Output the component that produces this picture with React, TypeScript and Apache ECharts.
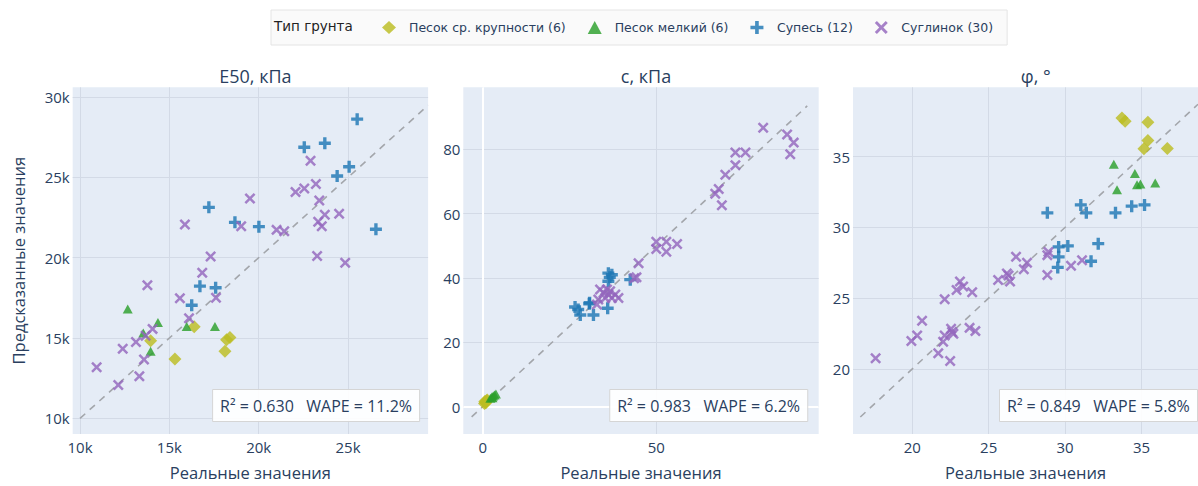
import React, { useEffect, useRef } from "react";
import * as echarts from "echarts";

// ---------- data ----------
const typeNames = ["Песок ср. крупности (6)", "Песок мелкий (6)", "Супесь (12)", "Суглинок (30)"];
const typeColors = ["#bcbd22", "#2ca02c", "#1f77b4", "#9467bd"];
const panelTitles = ["E50, кПа", "c, кПа", "φ, °"];
const metricTexts = ["R² = 0.630\u00a0\u00a0\u00a0WAPE = 11.2%", "R² = 0.983\u00a0\u00a0\u00a0WAPE = 6.2%", "R² = 0.849\u00a0\u00a0\u00a0WAPE = 5.8%"];
const axisTitleX = "Реальные значения";
const axisTitleY = "Предсказанные значения";

// [real, predicted]
const e50Sand: number[][] = [[13950, 14830], [16390, 15700], [15310, 13700], [18390, 15040], [18200, 14900], [18110, 14180]];
const e50Fine: number[][] = [[12670, 16810], [14360, 15970], [15970, 15720], [17550, 15720], [13950, 14180], [13540, 15310]];
const e50Supes: number[][] = [[25510, 28620], [22550, 26870], [23700, 27120], [24390, 25080], [25060, 25660], [17210, 23130], [18670, 22200], [20010, 21930], [26560, 21770], [16710, 18230], [17590, 18130], [16250, 17040]];
const e50Sugl: number[][] = [[22900, 26030], [22060, 24090], [22550, 24300], [23200, 24590], [19510, 23680], [23390, 23560], [15870, 22060], [19020, 21960], [21000, 21730], [21430, 21650], [23700, 22670], [24500, 22730], [23330, 22240], [23530, 21960], [23270, 20100], [24840, 19690], [17310, 20080], [16840, 19060], [13770, 18290], [15590, 17470], [17610, 17510], [16100, 16230], [14060, 15570], [13670, 15140], [13130, 14750], [12390, 14340], [13580, 13660], [10930, 13190], [13320, 12630], [12140, 12080]];

const cSand: number[][] = [[0.5, 1.0], [0.8, 1.4], [1.1, 1.8], [0.6, 1.6], [1.3, 2.1], [0.9, 1.2]];
const cFine: number[][] = [[2.2, 2.6], [2.6, 3.0], [3.0, 3.3], [3.4, 3.6], [2.8, 2.8], [3.8, 3.9]];
const cSupes: number[][] = [[36.2, 41.5], [37.2, 41.0], [36.2, 39.0], [42.5, 39.5], [26.6, 31.0], [28.1, 28.5], [30.7, 32.0], [31.9, 28.5], [36.0, 30.6], [30.8, 32.3], [36.6, 40.2], [27.5, 30.2]];
const cSugl: number[][] = [[80.8, 86.7], [87.7, 84.6], [89.6, 82.1], [88.6, 78.5], [72.8, 79.0], [75.7, 79.0], [72.8, 75.1], [69.9, 72.1], [68.0, 67.7], [67.0, 66.2], [68.9, 62.6], [50.0, 51.3], [52.9, 51.3], [56.0, 50.6], [50.0, 49.0], [52.9, 48.2], [44.9, 44.6], [43.6, 39.9], [44.3, 40.2], [33.8, 36.4], [35.8, 36.4], [36.7, 35.9], [38.2, 34.9], [39.1, 33.8], [33.3, 33.3], [32.9, 31.8], [36.2, 34.9], [37.2, 33.8], [34.8, 35.4], [35.3, 33.8]];

const phiSand: number[][] = [[33.72, 37.73], [33.93, 37.5], [35.42, 37.43], [35.42, 36.14], [35.16, 35.56], [36.69, 35.58]];
const phiFine: number[][] = [[33.19, 34.46], [34.57, 33.81], [33.4, 32.66], [34.71, 33.01], [34.93, 33.06], [35.9, 33.13]];
const phiSupes: number[][] = [[28.84, 31.03], [31.03, 31.59], [31.39, 31.03], [33.3, 31.03], [34.36, 31.5], [35.2, 31.59], [29.58, 28.62], [30.18, 28.69], [29.58, 27.92], [32.17, 28.85], [31.7, 27.61], [29.52, 27.17]];
const phiSugl: number[][] = [[28.91, 28.27], [28.84, 28.04], [26.79, 27.92], [27.51, 27.5], [27.3, 27.05], [30.39, 27.29], [31.11, 27.68], [28.84, 26.63], [26.19, 26.75], [26.4, 26.17], [25.62, 26.28], [23.12, 26.17], [22.9, 25.58], [23.33, 25.82], [23.92, 25.42], [22.12, 24.93], [20.64, 23.41], [19.94, 21.97], [20.32, 22.36], [22.54, 22.83], [22.12, 22.36], [22.69, 22.48], [22.02, 21.92], [21.7, 21.1], [22.48, 20.56], [23.75, 22.9], [24.13, 22.67], [17.6, 20.75], [22.6, 22.6], [26.3, 26.6]];

// diagonal y = x endpoints per panel
const diagE50 = [10000, 29480];
const diagC = [-3.2, 93.5];
const diagPhi = [16.6, 38.7];

// axis ranges and tick steps
const rangesX = [[9590, 29480], [-5.6, 96.8], [16.12, 38.7]];
const rangesY = [[9030, 30600], [-8.5, 99.3], [15.4, 39.9]];
const tickSteps = [5000, 20, 5];
const tickStepsX = [5000, 50, 5];

const panelData = [
  [e50Sand, e50Fine, e50Supes, e50Sugl],
  [cSand, cFine, cSupes, cSugl],
  [phiSand, phiFine, phiSupes, phiSugl],
];
const diagonals = [diagE50, diagC, diagPhi];

// ---------- styling ----------
const FONT = "'Open Sans', 'Noto Sans', sans-serif";
const LFONT = "'DejaVu Sans', sans-serif";
const TXT = "#2a3f5f";
const PLUS = "path://M3.6,0H6.4V3.6H10V6.4H6.4V10H3.6V6.4H0V3.6H3.6Z";
const XSYM = "path://M1.6,0L5,3.4L8.4,0L10,1.6L6.6,5L10,8.4L8.4,10L5,6.6L1.6,10L0,8.4L3.4,5L0,1.6Z";
const symbols = ["diamond", "triangle", PLUS, XSYM];
const symbolSizes: any[] = [13, [10, 9], 12, 11];

const gridLefts = [72.7, 463.3, 853];
const GRID_W = 355.4;
const GRID_TOP = 87.3;
const GRID_H = 349.7;

export default function App() {
  const ref = useRef<HTMLDivElement>(null);
  useEffect(() => {
    if (!ref.current) return;
    const chart = echarts.init(ref.current, undefined, { renderer: "svg" });

    const fmt = (i: number) => (v: number) => (i === 0 ? `${Math.round(v / 1000)}k` : `${Math.round(v)}`);

    const grids = gridLefts.map((l) => ({ left: l, top: GRID_TOP, width: GRID_W, height: GRID_H, backgroundColor: "#E5ECF6", show: true, borderWidth: 0 }));

    const xAxes = [0, 1, 2].map((i) => ({
      type: "value",
      gridIndex: i,
      min: rangesX[i][0],
      max: rangesX[i][1],
      minInterval: tickStepsX[i],
      maxInterval: tickStepsX[i],
      axisLine: { show: false },
      axisTick: { show: false },
      splitLine: { show: true, showMinLine: false, showMaxLine: false, lineStyle: { color: "#d3dae6", width: 1 } },
      axisLabel: { showMinLabel: false, showMaxLabel: false, formatter: fmt(i), color: TXT, fontSize: 15, fontFamily: FONT, margin: 5 },
      name: axisTitleX,
      nameLocation: "middle",
      nameGap: 30,
      nameTextStyle: { color: TXT, fontSize: 16.5, fontFamily: FONT },
    }));

    const yAxes = [0, 1, 2].map((i) => ({
      type: "value",
      gridIndex: i,
      min: rangesY[i][0],
      max: rangesY[i][1],
      minInterval: tickSteps[i],
      maxInterval: tickSteps[i],
      axisLine: { show: false },
      axisTick: { show: false },
      splitLine: { show: true, showMinLine: false, showMaxLine: false, lineStyle: { color: "#d3dae6", width: 1 } },
      axisLabel: { showMinLabel: false, showMaxLabel: false, formatter: fmt(i), color: TXT, fontSize: 15, fontFamily: FONT, margin: 3 },
      name: i === 0 ? axisTitleY : "",
      nameLocation: "middle",
      nameGap: 46,
      nameTextStyle: { color: TXT, fontSize: 16.5, fontFamily: FONT },
    }));

    const series: any[] = [];
    diagonals.forEach((d, i) => {
      const s: any = {
        type: "line",
        xAxisIndex: i,
        yAxisIndex: i,
        data: [[d[0], d[0]], [d[1], d[1]]],
        symbol: "none",
        silent: true,
        z: 2,
        lineStyle: { color: "#a3a6ab", width: 1.6, type: [7, 6] },
      };
      if (i === 1) {
        s.markLine = {
          silent: true,
          symbol: "none",
          z: 1,
          label: { show: false },
          lineStyle: { color: "#ffffff", width: 2, type: "solid" },
          data: [{ xAxis: 0 }, { yAxis: 0 }],
        };
      }
      series.push(s);
    });
    panelData.forEach((groups, i) => {
      groups.forEach((pts, k) => {
        series.push({
          type: "scatter",
          name: typeNames[k],
          xAxisIndex: i,
          yAxisIndex: i,
          data: pts,
          symbol: symbols[k],
          symbolSize: symbolSizes[k],
          z: 3,
          itemStyle: { color: typeColors[k], opacity: 0.82 },
        });
      });
    });

    const titles: any[] = panelTitles.map((t, i) => ({
      text: t,
      left: gridLefts[i] + GRID_W / 2,
      top: 62,
      textAlign: "center",
      textStyle: { color: TXT, fontSize: 18, fontWeight: "normal", fontFamily: FONT },
    }));
    titles.push({
      text: "Тип грунта",
      left: 274,
      top: 19,
      padding: 0,
      textStyle: { color: "#222", fontSize: 13.5, fontWeight: "normal", fontFamily: LFONT },
    });
    const annoPos = [{ right: 778 }, { right: 390 }, { left: 999 }];
    metricTexts.forEach((t, i) => {
      titles.push({
        text: t,
        ...annoPos[i],
        top: 389,
        padding: [8, 8, 8, 8],
        backgroundColor: "rgba(255,255,255,0.92)",
        borderColor: "#d5d5d5",
        borderWidth: 1,
        textStyle: { color: TXT, fontSize: 16, lineHeight: 17, fontWeight: "normal", fontFamily: FONT },
      });
    });

    chart.setOption({
      animation: false,
      backgroundColor: "#ffffff",
      title: titles,
      legend: {
        data: typeNames,
        orient: "horizontal",
        left: 271,
        top: 10,
        padding: [11, 14, 11, 111],
        itemWidth: 14,
        itemHeight: 13,
        itemGap: 22,
        symbolKeepAspect: true,
        backgroundColor: "#fafafa",
        borderColor: "#e4e4e4",
        borderWidth: 1,
        textStyle: { color: TXT, fontSize: 12.5, fontFamily: LFONT, padding: [0, 0, 0, 8] },
        selectedMode: false,
      },
      grid: grids,
      xAxis: xAxes,
      yAxis: yAxes,
      series,
    });
    return () => chart.dispose();
  }, []);
  return <div ref={ref} style={{ position: "absolute", left: 0, top: 0, width: 1198, height: 486 }} />;
}
